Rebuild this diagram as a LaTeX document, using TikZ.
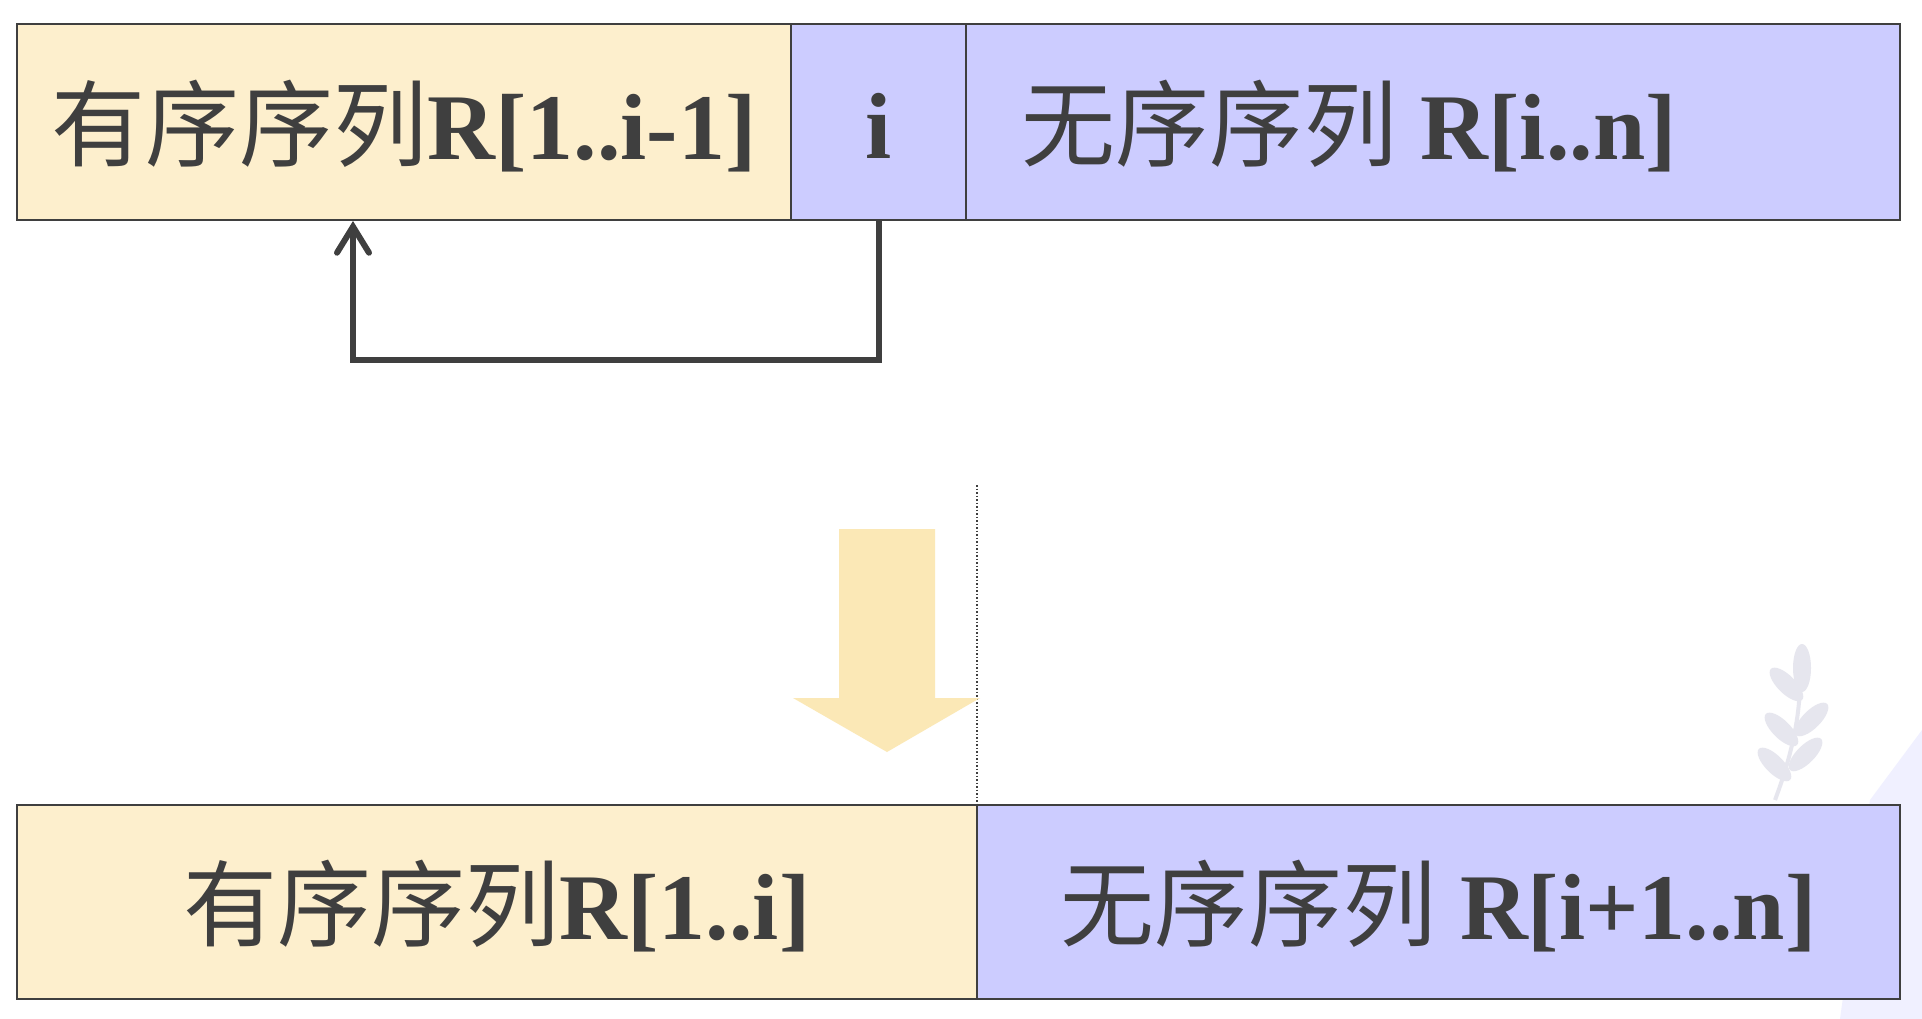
\documentclass[tikz,border=0pt]{standalone}
\usepackage{fontspec}
\setmainfont{Liberation Serif}
\newfontfamily\cjk{Noto Sans CJK SC}
\usetikzlibrary{arrows.meta}
\definecolor{ink}{HTML}{3F3F3F}
\definecolor{cream}{HTML}{FDEFCD}
\definecolor{lav}{HTML}{CCCCFF}
\definecolor{bigarrow}{HTML}{FBE8B6}
\definecolor{wm}{HTML}{E6E6EE}
\tikzset{
  seg/.style={draw=ink, line width=2pt, rectangle, inner sep=0pt, minimum height=196pt},
  lbl/.style={text=ink, inner sep=0pt, font=\fontsize{94}{110}\selectfont\bfseries},
  conn/.style={draw=ink, line width=6pt},
}
\begin{document}
\begin{tikzpicture}[x=1pt,y=-1pt]
\useasboundingbox (0,0) rectangle (1922,1019);
\fill[white] (0,0) rectangle (1922,1019);
% faint watermark
\begin{scope}
  \fill[lav!30] (1922,730) -- (1870,800) -- (1840,1019) -- (1922,1019) -- cycle;
  \draw[wm, line width=4pt] (1775,800) .. controls (1790,760) and (1800,720) .. (1800,680);
  \foreach \yy/\s/\xx in {700/1/1802,735/-1/1796,745/1/1797,770/-1/1790,780/1/1790}{
    \fill[wm, rotate around={\s*45:(\xx,\yy)}] (\xx,\yy-22) ellipse (9pt and 22pt);
  }
  \fill[wm] (1802,668) ellipse (9pt and 24pt);
\end{scope}
% top row
\node[seg, fill=cream, minimum width=774pt] (tl) at (404,122) {};
\node[seg, fill=lav, minimum width=175pt] (ti) at (878.5,122) {};
\node[seg, fill=lav, minimum width=934pt] (tr) at (1433,122) {};
\node[lbl] (tlt) at (404,126) {{\cjk\mdseries 有序序列}R[1..i-1]};
\node[lbl] (tit) at (878.5,126) {i};
\node[lbl, anchor=west] (trt) at (1021,126) {{\cjk\mdseries 无序序列} R[i..n]};
% connector from i back into the sorted part
\coordinate (c1) at (878.5,360);
\coordinate (c2) at (353,360);
\draw[conn, -{Straight Barb[length=26pt,width=32pt,line cap=round]}]
  (ti.south) -- (c1) -- (c2) -- (c2 |- tl.south);
% dotted divider
\coordinate (d1) at (977,485);
% bottom row
\node[seg, fill=cream, minimum width=960pt, minimum height=194pt] (bl) at (497,902) {};
\node[seg, fill=lav, minimum width=923pt, minimum height=194pt] (br) at (1438.5,902) {};
\draw[ink, line width=1.5pt, dotted] (d1) -- (d1 |- bl.north);
\node[lbl] (blt) at (497,906) {{\cjk\mdseries 有序序列}R[1..i]};
\node[lbl] (brt) at (1438.5,906) {{\cjk\mdseries 无序序列} R[i+1..n]};
% big down arrow
\fill[bigarrow] (839,529) -- (935,529) -- (935,698) -- (980,698) -- (887,752) -- (793,698) -- (839,698) -- cycle;
\end{tikzpicture}
\end{document}
